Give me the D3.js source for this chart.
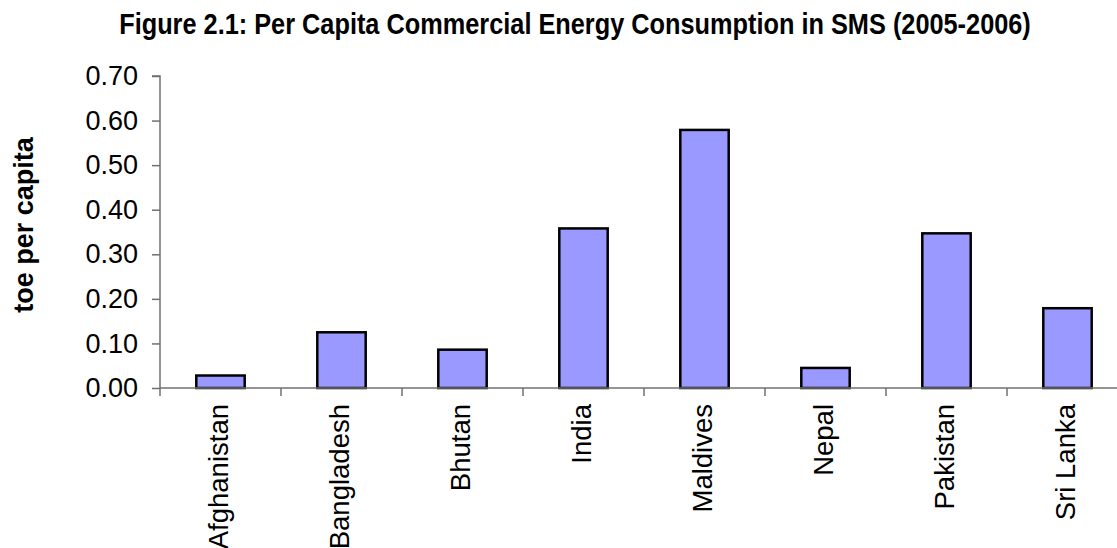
<!DOCTYPE html>
<html>
<head>
<meta charset="utf-8">
<script src="https://cdn.jsdelivr.net/npm/d3@7"></script>
<style>
  html, body { margin: 0; padding: 0; background: #fff; }
  svg { display: block; }
</style>
</head>
<body>
<svg id="chart" width="1117" height="548"></svg>
<script>
// Per capita commercial energy consumption, toe per capita
const countries = ["Afghanistan", "Bangladesh", "Bhutan", "India", "Maldives", "Nepal", "Pakistan", "Sri Lanka"];
const toePerCapita = [0.028, 0.125, 0.086, 0.358, 0.579, 0.045, 0.347, 0.179];
const yTicks = [0, 0.1, 0.2, 0.3, 0.4, 0.5, 0.6, 0.7];

const svg = d3.select("#chart");
const plotLeft = 160, plotBottom = 388, plotTop = 76;
const step = 121;

const x = d3.scaleBand()
  .domain(countries)
  .range([plotLeft, plotLeft + step * countries.length])
  .paddingInner(0.6)
  .paddingOuter(0.3);

const y = d3.scaleLinear().domain([0, 0.7]).range([plotBottom, plotTop]);

const fontBody = "'Liberation Sans', Arial, sans-serif";

// title: condensed bold, scaled horizontally to its fixed span
const title = svg.append("text")
  .attr("text-anchor", "middle")
  .attr("font-family", "'Liberation Sans Narrow', 'Arial Narrow', 'Liberation Sans', Arial, sans-serif")
  .attr("font-stretch", "condensed")
  .attr("font-weight", "bold")
  .attr("font-size", 30)
  .text("Figure 2.1: Per Capita Commercial Energy Consumption in SMS (2005-2006)");
const titleWidth = title.node().getComputedTextLength() || 912;
title.attr("transform", `translate(575,34) scale(${912 / titleWidth},1)`);

// y axis label
svg.append("text")
  .attr("transform", `translate(33, 225) rotate(-90)`)
  .attr("text-anchor", "middle")
  .attr("font-family", fontBody)
  .attr("font-weight", "bold")
  .attr("font-size", 27)
  .text("toe per capita");

// bars
svg.append("g")
  .selectAll("rect")
  .data(countries)
  .join("rect")
  .attr("x", d => x(d))
  .attr("width", x.bandwidth())
  .attr("y", (d, i) => y(toePerCapita[i]))
  .attr("height", (d, i) => y(0) - y(toePerCapita[i]))
  .attr("fill", "#9999ff")
  .attr("stroke", "#000")
  .attr("stroke-width", 2.5);

// y axis
const yAxis = d3.axisLeft(y)
  .tickValues(yTicks)
  .tickFormat(d3.format(".2f"))
  .tickSize(8)
  .tickPadding(14);

const gy = svg.append("g")
  .attr("transform", `translate(${plotLeft},0)`)
  .call(yAxis);
gy.select(".domain").attr("stroke", "#707070").attr("stroke-width", 1.5)
  .attr("d", `M-8,${plotTop}H0V${plotBottom}`);
gy.selectAll(".tick line").attr("stroke", "#707070").attr("stroke-width", 1.5);
gy.selectAll(".tick text")
  .attr("font-family", fontBody)
  .attr("font-size", 27)
  .attr("fill", "#000");

// x axis: baseline with tick marks at category boundaries
const gx = svg.append("g").attr("transform", `translate(0,${plotBottom})`);
gx.append("line")
  .attr("x1", plotLeft).attr("x2", plotLeft + step * countries.length)
  .attr("stroke", "#707070").attr("stroke-width", 1.5);
const boundaries = d3.range(countries.length + 1).map(i => plotLeft + step * i);
gx.selectAll("line.tk")
  .data(boundaries)
  .join("line")
  .attr("class", "tk")
  .attr("x1", d => d).attr("x2", d => d)
  .attr("y1", 0).attr("y2", 8)
  .attr("stroke", "#707070").attr("stroke-width", 1.5);

gx.selectAll("text")
  .data(countries)
  .join("text")
  .attr("transform", d => `translate(${x(d) + x.bandwidth() / 2 + 7}, 16) rotate(-90)`)
  .attr("text-anchor", "end")
  .attr("font-family", fontBody)
  .attr("font-size", 27.5)
  .attr("fill", "#000")
  .text(d => d);
</script>
</body>
</html>
